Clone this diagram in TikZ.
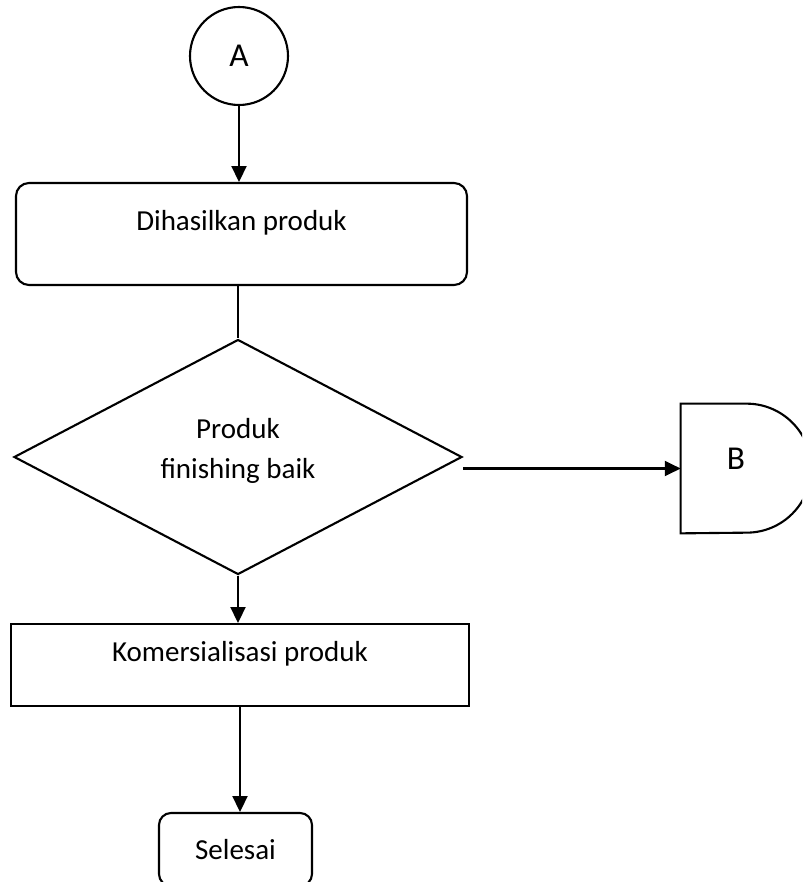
\documentclass[tikz,border=0pt]{standalone}
\usepackage{fontspec}
\setmainfont{Carlito}
\usetikzlibrary{shapes.geometric,arrows.meta}

\tikzset{
	flow/.style={line width=1.2pt},
	arr/.style={flow, -{Triangle[width=8.5pt,length=9pt]}},
	roundbox/.style={draw, line width=1.2pt, rectangle, rounded corners=0.26cm},
	plainbox/.style={draw, line width=1.2pt, rectangle},
	bigletter/.style={font=\fontsize{19pt}{19pt}\selectfont}
}

\begin{document}
\begin{tikzpicture}[font=\fontsize{16.5pt}{16.5pt}\selectfont]
			\clip (0,0) rectangle (16.04,-17.64);
			
			\node[circle, draw, line width=1.2pt, minimum size=1.96cm, bigletter] (A) at (4.78,-1.12) {A};
			
			\node[roundbox, minimum width=9.02cm, minimum height=2.04cm,
				label={[anchor=north, inner sep=0pt, yshift=-0.56cm]north:Dihasilkan produk}] (prod) at (4.83,-4.68) {};
			
			\node[diamond, draw, line width=1.2pt, minimum width=8.96cm, minimum height=4.7cm, inner sep=0pt,
				label={[align=center, font=\fontsize{16.5pt}{23pt}\selectfont, yshift=0.12cm]center:Produk\\finishing baik}] (dia) at (4.76,-9.14) {};
			
			\node[minimum width=2.6cm, minimum height=2.58cm, inner sep=0pt,
				label={[bigletter, xshift=-0.2cm, yshift=0.19cm]center:B}] (B) at (14.92,-9.37) {};
			\draw[flow] (B.north west) -- ++(1.32,0) arc[start angle=90, end angle=-90, radius=1.29] -- (B.south west) -- cycle;
			
			\node[plainbox, minimum width=9.16cm, minimum height=1.64cm,
				label={[yshift=0.22cm]center:Komersialisasi produk}] (kom) at (4.80,-13.30) {};
			
			\node[roundbox, rounded corners=0.24cm, minimum width=3.06cm, minimum height=1.46cm] (end) at (4.71,-16.99) {Selesai};
			
			\foreach \from/\to in {A/prod,dia/kom,kom/end}
			\draw[arr] (\from.south) -- (\from.south |- \to.north);
			\draw[flow] (dia.north |- prod.south) -- (dia.north);
			\draw[arr] (dia.east |- B.west) -- (B.west);
		\end{tikzpicture}
\end{document}
